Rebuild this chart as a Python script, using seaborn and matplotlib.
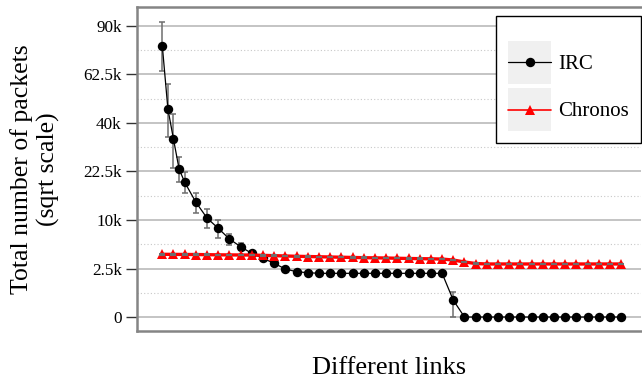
import numpy as np
import pandas as pd
import matplotlib
matplotlib.use("Agg")
import matplotlib.pyplot as plt
import seaborn as sns
from matplotlib.legend_handler import HandlerLine2D
from matplotlib.lines import Line2D
from matplotlib.patches import Rectangle

# IRC: per-link mean and std of packet counts
irc_x = [0, 0.5, 1, 1.5, 2] + list(range(3, 42))
irc_mean = [78200, 46000, 33600, 23300, 19300,
            14000, 10400, 8360, 6470, 5250, 4300, 3660, 3060, 2450, 2180, 2090,
            2030, 2030, 2030, 2030, 2030, 2030, 2030, 2030, 2030, 2030, 2030, 2030,
            300,
            0, 0, 0, 0, 0, 0, 0, 0, 0, 0, 0, 0, 0, 0, 0]
irc_std = [14000, 11600, 10000, 4000, 3000,
           2400, 2000, 1700, 900, 500, 400, 250, 150, 100, 80, 50,
           30, 30, 30, 30, 30, 30, 30, 30, 30, 30, 30, 30,
           350,
           0, 0, 0, 0, 0, 0, 0, 0, 0, 0, 0, 0, 0, 0, 0]

# Chronos
chr_x = list(range(42))
chr_mean = [4180, 4170, 4160, 4150, 4130, 4110, 4100, 4090, 4080,
            4040, 4000, 3960, 3920, 3890,
            3860, 3830, 3800, 3770, 3740, 3720, 3700,
            3670, 3640, 3620, 3600, 3570,
            3450, 3220, 3040,
            2990, 2990, 2990, 2990, 2990, 2990, 2990, 2990, 2990, 2990, 2990, 2990, 2990]
chr_std = [30] * 42

yticks = [0, 2500, 10000, 22500, 40000, 62500, 90000]
ytick_labels = ["0", "2.5k", "10k", "22.5k", "40k", "62.5k", "90k"]
minor_ticks = [625, 5625, 15625, 30625, 50625, 75625]


def fwd(v):
    v = np.asarray(v, dtype=float)
    return np.sign(v) * np.sqrt(np.abs(v))


def inv(v):
    v = np.asarray(v, dtype=float)
    return np.sign(v) * v ** 2


class KeyHandler(HandlerLine2D):
    # grey key background like the original legend, symbol centred in it
    def create_artists(self, legend, orig_handle, xdescent, ydescent,
                       width, height, fontsize, trans):
        arts = super().create_artists(legend, orig_handle, xdescent, ydescent,
                                      width, height - ydescent, fontsize, trans)
        bg = Rectangle((-xdescent, -ydescent), width, height,
                       facecolor="#f0f0f0", edgecolor="none", transform=trans)
        return [bg] + arts


sns.set_style("white")
plt.rcParams["font.family"] = ["Liberation Serif", "DejaVu Serif"]
plt.rcParams["text.color"] = "black"
plt.rcParams["axes.labelcolor"] = "black"
plt.rcParams["ytick.color"] = "black"

fig = plt.figure(figsize=(6.42, 3.83), dpi=100)
ax = fig.add_axes([137 / 642, 1 - 331 / 383, 504 / 642, 324 / 383])

ax.set_yscale("function", functions=(fwd, inv))

irc_df = pd.DataFrame({"x": irc_x, "y": irc_mean})
chr_df = pd.DataFrame({"x": chr_x, "y": chr_mean})

irc_lo = np.minimum(irc_std, irc_mean)
ax.errorbar(irc_x, irc_mean, yerr=[irc_lo, irc_std], fmt="none",
            ecolor="#6e6e6e", elinewidth=1.1, capsize=2.2, capthick=1.1, zorder=2)
sns.lineplot(data=irc_df, x="x", y="y", ax=ax, color="black", linewidth=0.9,
             marker="o", markersize=6.8, markeredgewidth=0, zorder=3)

sns.lineplot(data=chr_df, x="x", y="y", ax=ax, color="#ff0000", linewidth=2.4,
             marker="^", markersize=7.5, markeredgewidth=0, zorder=4)
ax.errorbar(chr_x, chr_mean, yerr=chr_std, fmt="none",
            ecolor="#6e6e6e", elinewidth=1.5, capsize=2.2, capthick=1.5, zorder=5)

ax.set_xlim(-2.26, 42.77)
ax.set_ylim(-207, 102100)
ax.set_yticks(yticks)
ax.set_yticklabels(ytick_labels)
ax.set_yticks(minor_ticks, minor=True)
ax.set_xticks([])

ax.grid(axis="y", which="major", color="#b4b4b4", linewidth=1.1, linestyle="-")
ax.grid(axis="y", which="minor", color="#c8c8c8", linewidth=0.8, linestyle=(0, (1, 2)))
ax.set_axisbelow(True)
ax.tick_params(axis="y", which="major", left=True, length=8, width=1,
               color="#333333", labelcolor="black", labelsize=12.3, pad=3)
ax.tick_params(axis="y", which="minor", left=False)

for side in ["left", "top", "bottom"]:
    ax.spines[side].set_color("#858585")
    ax.spines[side].set_linewidth(1.8)
ax.spines["right"].set_visible(False)

ax.set_xlabel("Different links", fontsize=19)
ax.set_ylabel("Total number of packets\n(sqrt scale)", fontsize=18.5,
              linespacing=1.2)
ax.xaxis.set_label_coords(0.5, (331 - 357) / 324)
ax.yaxis.set_label_coords((60 - 137) / 504, 0.5)

h_irc = Line2D([], [], color="black", linewidth=0.9, marker="o", markersize=6.8,
               markeredgewidth=0)
h_chr = Line2D([], [], color="#ff0000", linewidth=1.2, marker="^", markersize=7.5,
               markeredgewidth=0)
leg = ax.legend([h_irc, h_chr], ["IRC", "Chronos"], loc="upper right",
                bbox_to_anchor=(641 / 642, 1 - 15.7 / 383),
                bbox_transform=fig.transFigure, borderaxespad=0,
                fontsize=15, handlelength=2.05, handleheight=2.8,
                handletextpad=0.35, labelspacing=0.2, borderpad=0.58,
                title=" ", title_fontsize=7, fancybox=False, framealpha=1,
                handler_map={Line2D: KeyHandler()})
leg.get_frame().set_edgecolor("black")
leg.get_frame().set_linewidth(1.0)

fig.savefig("out.png", dpi=100)
